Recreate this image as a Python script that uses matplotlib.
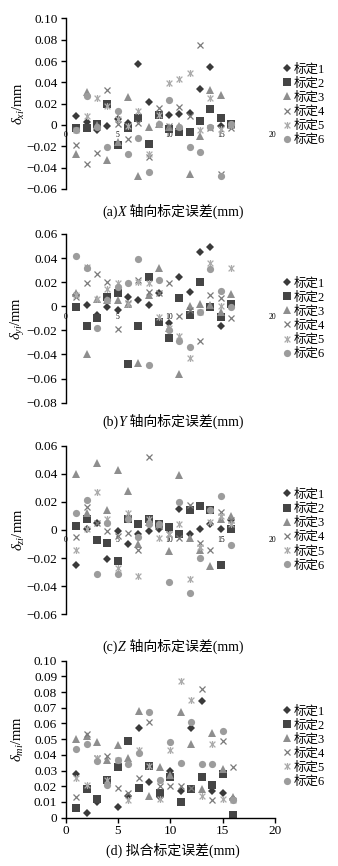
import matplotlib
matplotlib.use("Agg")
import matplotlib.pyplot as plt
from matplotlib.path import Path
from matplotlib.offsetbox import TextArea, HPacker, AnnotationBbox

plt.rcParams['mathtext.fontset'] = 'custom'
plt.rcParams['mathtext.rm'] = 'Liberation Serif'
plt.rcParams['mathtext.it'] = 'Liberation Serif:italic'
plt.rcParams['font.family'] = ['Liberation Serif', 'Noto Sans CJK SC']

fam = ['Liberation Serif', 'Noto Sans CJK SC']

# measurement index (calibration point number)
pts = list(range(1, 17))
names = ['标定1', '标定2', '标定3', '标定4', '标定5', '标定6']

# (a) X axis error
a1 = [0.008, 0.003, -0.005, -0.001, 0.006, 0.002, 0.057, 0.022, 0.009, 0.009, 0.010, 0.011, 0.034, 0.054, -0.001, 0.001]
a2 = [-0.003, -0.003, 0.001, 0.020, -0.019, -0.003, 0.007, -0.018, 0.009, -0.004, -0.007, -0.007, 0.004, 0.015, 0.007, 0.001]
a3 = [-0.027, 0.031, 0.000, -0.033, -0.016, 0.026, -0.048, -0.002, 0.001, -0.002, -0.001, -0.046, -0.010, 0.033, 0.028, 0.000]
a4 = [-0.019, -0.037, -0.026, 0.033, 0.001, -0.013, 0.002, -0.030, 0.016, -0.001, 0.017, 0.008, 0.075, -0.003, -0.046, -0.003]
a5 = [-0.005, 0.008, 0.025, 0.018, 0.006, -0.001, 0.013, -0.027, 0.009, 0.039, 0.043, 0.049, -0.005, 0.025, -0.004, 0.000]
a6 = [-0.005, 0.027, -0.002, -0.021, 0.013, -0.027, -0.012, -0.044, 0.001, 0.023, -0.002, -0.021, -0.025, -0.002, -0.048, 0.001]

# (b) Y axis error
b1 = [0.009, 0.001, -0.007, -0.001, -0.003, 0.008, 0.005, 0.001, 0.011, -0.014, 0.024, 0.012, 0.045, 0.049, -0.016, 0.001]
b2 = [-0.001, -0.016, -0.010, 0.008, 0.011, -0.048, -0.016, 0.024, -0.013, -0.026, 0.007, -0.007, 0.020, -0.001, -0.009, 0.002]
b3 = [0.011, -0.040, 0.006, 0.005, 0.005, 0.002, -0.047, 0.009, 0.032, -0.018, -0.056, 0.000, 0.002, 0.001, -0.005, 0.010]
b4 = [0.008, 0.019, 0.027, 0.020, -0.019, 0.003, 0.022, 0.012, 0.011, 0.019, -0.008, -0.003, -0.029, 0.009, 0.007, -0.010]
b5 = [0.009, 0.033, 0.006, 0.014, 0.019, 0.002, 0.020, 0.019, -0.009, -0.018, -0.025, -0.043, -0.005, 0.036, 0.000, 0.032]
b6 = [0.042, 0.032, -0.018, 0.005, 0.016, 0.019, 0.039, -0.049, 0.022, -0.020, -0.029, -0.034, -0.005, 0.031, 0.013, -0.001]

# (c) Z axis error
c1 = [-0.025, 0.001, 0.005, -0.021, -0.001, -0.010, -0.003, -0.001, 0.001, 0.001, 0.015, -0.003, 0.001, 0.004, 0.001, 0.007]
c2 = [0.003, 0.008, -0.007, -0.009, -0.022, 0.008, 0.004, 0.008, 0.004, 0.002, -0.003, 0.014, 0.017, 0.014, -0.025, 0.001]
c3 = [0.040, 0.012, 0.048, 0.014, 0.043, 0.028, -0.010, 0.006, 0.004, -0.015, 0.039, -0.006, -0.014, -0.026, 0.008, 0.010]
c4 = [-0.005, 0.016, 0.005, -0.001, -0.004, -0.002, -0.014, 0.052, 0.003, -0.003, -0.006, 0.018, -0.009, -0.014, 0.013, 0.007]
c5 = [-0.014, 0.001, 0.027, 0.008, -0.027, 0.012, -0.033, 0.008, -0.006, -0.003, 0.004, -0.035, -0.012, 0.006, 0.010, 0.004]
c6 = [0.012, 0.021, -0.031, 0.005, -0.031, 0.008, -0.005, 0.004, 0.004, -0.037, 0.020, -0.045, -0.020, 0.014, 0.024, -0.011]

# (d) fitted error
d1 = [0.028, 0.003, 0.010, 0.023, 0.007, 0.014, 0.057, 0.023, 0.013, 0.030, 0.017, 0.057, 0.074, 0.017, 0.016, 0.012]
d2 = [0.006, 0.018, 0.012, 0.024, 0.032, 0.049, 0.019, 0.033, 0.016, 0.026, 0.010, 0.018, 0.026, 0.021, 0.028, 0.002]
d3 = [0.050, 0.052, 0.048, 0.037, 0.046, 0.038, 0.068, 0.014, 0.032, 0.027, 0.067, 0.047, 0.018, 0.054, 0.031, 0.013]
d4 = [0.013, 0.053, 0.038, 0.039, 0.019, 0.016, 0.025, 0.061, 0.020, 0.020, 0.020, 0.019, 0.082, 0.011, 0.049, 0.032]
d5 = [0.025, 0.021, 0.038, 0.024, 0.037, 0.011, 0.043, 0.033, 0.012, 0.043, 0.087, 0.075, 0.014, 0.047, 0.012, 0.011]
d6 = [0.044, 0.047, 0.036, 0.021, 0.037, 0.034, 0.041, 0.067, 0.024, 0.048, 0.035, 0.061, 0.034, 0.034, 0.055, 0.011]

# x with a vertical bar, like the spreadsheet "star" marker
star = Path([(-1, -1), (1, 1), (-1, 1), (1, -1), (0, -1.2), (0, 1.2)],
            [Path.MOVETO, Path.LINETO, Path.MOVETO, Path.LINETO, Path.MOVETO, Path.LINETO])

styles = [
    dict(marker='D', ms=4.2, color='#3a3a3a', mew=0),
    dict(marker='s', ms=5.2, color='#454545', mew=0),
    dict(marker='^', ms=5.5, color='#8e8e8e', mew=0),
    dict(marker='x', ms=5.0, color='#7a7a7a', mew=0.9),
    dict(marker=star, ms=5.0, color='#ababab', mew=0.9),
    dict(marker='o', ms=5.2, color='#9c9c9c', mew=0),
]

fig = plt.figure(figsize=(3.38, 8.66), dpi=100)

# axes rect, data, y range, y label, legend centre (figure y)
panels = [
    ([0.195, 0.7818, 0.611, 0.197], [a1, a2, a3, a4, a5, a6], (-0.06, 0.10), r'$\delta_{xi}$/mm', 0.879),
    ([0.195, 0.535, 0.611, 0.1948], [b1, b2, b3, b4, b5, b6], (-0.08, 0.06), r'$\delta_{yi}$/mm', 0.632),
    ([0.195, 0.2907, 0.611, 0.1947], [c1, c2, c3, c4, c5, c6], (-0.06, 0.06), r'$\delta_{zi}$/mm', 0.388),
    ([0.194, 0.0558, 0.620, 0.1813], [d1, d2, d3, d4, d5, d6], (0.0, 0.10), r'$\delta_{mi}$/mm', 0.138),
]

for i, (rect, series, ylim, ylab, legy) in enumerate(panels):
    ax = fig.add_axes(rect)
    for vals, st, nm in zip(series, styles, names):
        ax.plot(pts, vals, linestyle='none', label=nm, **st)
    ax.set_xlim(0, 20)
    ax.set_ylim(*ylim)
    ax.spines['top'].set_visible(False)
    ax.spines['right'].set_visible(False)
    ax.spines['left'].set_linewidth(1.0)
    ax.set_xticks([0, 5, 10, 15, 20])
    if i < 3:
        # x labels sit on the zero line, no visible x axis
        step = 0.02
        ax.spines['bottom'].set_position(('data', 0))
        ax.spines['bottom'].set_color('none')
        ax.tick_params(axis='x', length=0, labelsize=5.5, pad=4.5)
        n = int(round((ylim[1] - ylim[0]) / step))
        ax.set_yticks([round(ylim[0] + k * step, 2) for k in range(n + 1)])
    else:
        ax.spines['bottom'].set_linewidth(1.0)
        ax.tick_params(axis='x', length=3.5, width=1.0, labelsize=9.5, pad=2)
        ax.set_yticks([k / 100 for k in range(11)])
    ax.yaxis.set_major_formatter(plt.FuncFormatter(
        lambda v, p: '0' if abs(v) < 1e-9 else ('\u2212%.2f' % -v if v < 0 else '%.2f' % v)))
    ax.tick_params(axis='y', length=3.5, width=1.0, labelsize=9.5, pad=2.5)
    ax.set_ylabel(ylab, fontsize=10.5)
    ax.yaxis.set_label_coords(-0.19, 0.5)

    fig.legend(handles=ax.get_lines(), labels=names, loc='center left',
               bbox_to_anchor=(0.835, legy), frameon=False,
               prop={'family': fam, 'size': 9}, handlelength=0.8,
               handletextpad=0.1, labelspacing=0.15, borderpad=0, borderaxespad=0)


def caption(y, tag, letter, rest):
    parts = [TextArea(tag, textprops=dict(family=fam, size=10))]
    if letter:
        parts.append(TextArea(letter, textprops=dict(family='Liberation Serif', style='italic', size=10)))
    parts.append(TextArea(rest, textprops=dict(family=fam, size=10)))
    box = HPacker(children=parts, align='baseline', pad=0, sep=0)
    ab = AnnotationBbox(box, (0.512, y), xycoords='figure fraction', frameon=False,
                        box_alignment=(0.5, 0.5), pad=0)
    fig.add_artist(ab)


caption(1 - 211.7 / 866, '(a)', 'X', ' 轴向标定误差(mm)')
caption(1 - 421.7 / 866, '(b)', 'Y', ' 轴向标定误差(mm)')
caption(1 - 646.7 / 866, '(c)', 'Z', ' 轴向标定误差(mm)')
caption(1 - 850.7 / 866, '(d) 拟合标定误差(mm)', '', '')

fig.savefig('out.png', dpi=100)
